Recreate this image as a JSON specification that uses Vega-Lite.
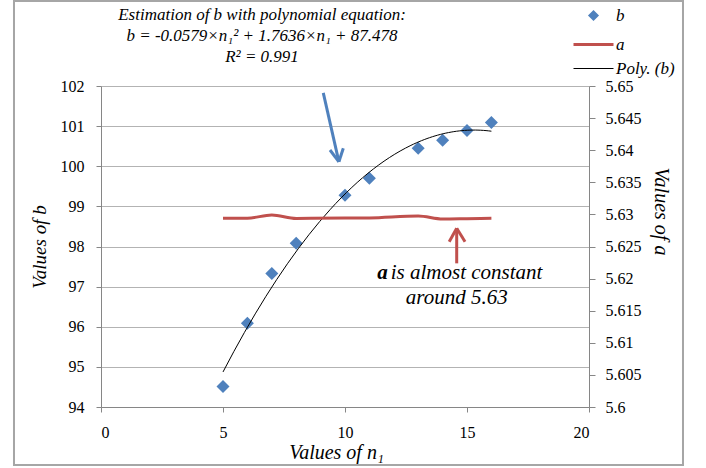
{
  "$schema": "https://vega.github.io/schema/vega-lite/v6.json",
  "width": 488,
  "height": 321,
  "autosize": {"type": "none"},
  "padding": {"left": 101, "top": 86, "right": 117, "bottom": 61},
  "background": "white",
  "title": {
    "text": ["Estimation of b with polynomial  equation:", "b = -0.0579×n₁² + 1.7636×n₁ + 87.478", "R² = 0.991"],
    "anchor": "middle",
    "frame": "group",
    "dx": -83,
    "dy": 78,
    "offset": 12,
    "font": "Liberation Serif, Times New Roman, serif",
    "fontStyle": "italic",
    "fontWeight": "normal",
    "fontSize": 17,
    "lineHeight": 21,
    "color": "#000000"
  },
  "config": {
    "font": "Liberation Serif, Times New Roman, serif",
    "view": {"stroke": null},
    "axis": {
      "labelFont": "Liberation Serif, Times New Roman, serif",
      "labelFontSize": 16,
      "labelColor": "#000000",
      "titleFont": "Liberation Serif, Times New Roman, serif",
      "titleFontStyle": "italic",
      "titleFontWeight": "normal",
      "titleFontSize": 19,
      "titleColor": "#000000",
      "domainColor": "#868686",
      "tickColor": "#868686",
      "gridColor": "#B3B3B3"
    },
    "legend": {
      "orient": "none",
      "legendX": 480,
      "legendY": -83,
      "padding": 0,
      "symbolSize": 400,
      "rowPadding": 5,
      "labelOffset": 10,
      "labelFont": "Liberation Serif, Times New Roman, serif",
      "labelFontStyle": "italic",
      "labelFontSize": 17,
      "labelColor": "#000000",
      "symbolOpacity": 1
    }
  },
  "datasets": {
    "pts": [
      {"n": 5, "b": 94.51},
      {"n": 6, "b": 96.09},
      {"n": 7, "b": 97.33},
      {"n": 8, "b": 98.08},
      {"n": 10, "b": 99.28},
      {"n": 11, "b": 99.7},
      {"n": 13, "b": 100.45},
      {"n": 14, "b": 100.65},
      {"n": 15, "b": 100.89},
      {"n": 16, "b": 101.09}
    ],
    "avals": [
      {"n": 5, "a": 5.62939},
      {"n": 6, "a": 5.6294},
      {"n": 7, "a": 5.62991},
      {"n": 8, "a": 5.62938},
      {"n": 10, "a": 5.62942},
      {"n": 11, "a": 5.62945},
      {"n": 13, "a": 5.62975},
      {"n": 14, "a": 5.62928},
      {"n": 15, "a": 5.62933},
      {"n": 16, "a": 5.62939}
    ],
    "one": [{}]
  },
  "resolve": {"scale": {"y": "independent"}},
  "layer": [
    {
      "layer": [
        {
          "data": {"name": "pts"},
          "mark": {"type": "point", "filled": true, "size": 4225, "opacity": 1},
          "encoding": {
            "x": {
              "field": "n",
              "type": "quantitative",
              "scale": {"domain": [0, 20], "nice": false},
              "axis": {
                "values": [0, 5, 10, 15, 20],
                "grid": false,
                "tickSize": 5,
                "labelPadding": 12,
                "title": "Values of n₁",
                "titleFontSize": 20,
                "titleX": 235,
                "titleY": 45,
                "titleAlign": "center",
                "titleBaseline": "middle"
              }
            },
            "y": {
              "field": "b",
              "type": "quantitative",
              "scale": {"domain": [94, 102], "nice": false, "zero": false},
              "axis": {
                "orient": "left",
                "values": [94, 95, 96, 97, 98, 99, 100, 101, 102],
                "grid": true,
                "tickSize": 5,
                "labelPadding": 12,
                "title": "Values of b",
                "titleX": -62,
                "titleY": 160.5,
                "titleAngle": -90,
                "titleAlign": "center",
                "titleBaseline": "middle"
              }
            },
            "color": {
              "datum": "b",
              "type": "nominal",
              "scale": {"domain": ["b", "a", "Poly. (b)"], "range": ["#4F81BD", "#C0504D", "#000000"]},
              "legend": {"title": null}
            },
            "shape": {
              "datum": "b",
              "type": "nominal",
              "scale": {"domain": ["b", "a", "Poly. (b)"], "range": ["M-0.2,0L0,-0.2L0.2,0L0,0.2Z", "M-2,0H2", "M-2,0H2"]},
              "legend": {"title": null}
            }
          }
        },
        {
          "data": {"name": "pts"},
          "transform": [{"regression": "b", "on": "n", "method": "poly", "order": 2}],
          "mark": {"type": "line"},
          "encoding": {
            "x": {"field": "n", "type": "quantitative"},
            "y": {"field": "b", "type": "quantitative"},
            "color": {"datum": "Poly. (b)", "type": "nominal"},
            "strokeWidth": {
              "datum": "Poly. (b)",
              "type": "ordinal",
              "scale": {"domain": ["b", "a", "Poly. (b)"], "range": [5, 1]},
              "legend": {"title": null}
            }
          }
        },
        {
          "data": {"name": "one"},
          "mark": {"type": "rect", "filled": false, "stroke": "#A6A6A6", "strokeWidth": 2, "clip": false},
          "encoding": {
            "x": {"datum": -3.566, "type": "quantitative"},
            "x2": {"datum": 23.852},
            "y": {"datum": 104.118, "type": "quantitative"},
            "y2": {"datum": 92.555}
          }
        },
        {
          "data": {"name": "one"},
          "mark": {"type": "rule", "color": "#4F81BD", "strokeWidth": 3},
          "encoding": {
            "x": {"datum": 9.11, "type": "quantitative"},
            "y": {"datum": 101.83, "type": "quantitative"},
            "x2": {"datum": 9.75},
            "y2": {"datum": 100.11}
          }
        },
        {
          "data": {"name": "one"},
          "mark": {"type": "rule", "color": "#4F81BD", "strokeWidth": 3},
          "encoding": {
            "x": {"datum": 9.385, "type": "quantitative"},
            "y": {"datum": 100.405, "type": "quantitative"},
            "x2": {"datum": 9.75},
            "y2": {"datum": 100.11}
          }
        },
        {
          "data": {"name": "one"},
          "mark": {"type": "rule", "color": "#4F81BD", "strokeWidth": 3},
          "encoding": {
            "x": {"datum": 9.93, "type": "quantitative"},
            "y": {"datum": 100.447, "type": "quantitative"},
            "x2": {"datum": 9.75},
            "y2": {"datum": 100.11}
          }
        },
        {
          "data": {"name": "one"},
          "mark": {"type": "rule", "color": "#C0504D", "strokeWidth": 3},
          "encoding": {
            "x": {"datum": 14.578, "type": "quantitative"},
            "y": {"datum": 97.58, "type": "quantitative"},
            "x2": {"datum": 14.578},
            "y2": {"datum": 98.455}
          }
        },
        {
          "data": {"name": "one"},
          "mark": {"type": "rule", "color": "#C0504D", "strokeWidth": 3},
          "encoding": {
            "x": {"datum": 14.27, "type": "quantitative"},
            "y": {"datum": 98.12, "type": "quantitative"},
            "x2": {"datum": 14.578},
            "y2": {"datum": 98.455}
          }
        },
        {
          "data": {"name": "one"},
          "mark": {"type": "rule", "color": "#C0504D", "strokeWidth": 3},
          "encoding": {
            "x": {"datum": 14.92, "type": "quantitative"},
            "y": {"datum": 98.12, "type": "quantitative"},
            "x2": {"datum": 14.578},
            "y2": {"datum": 98.455}
          }
        },
        {
          "data": {"name": "one"},
          "mark": {"type": "text", "text": "a", "font": "Liberation Serif, Times New Roman, serif", "fontStyle": "italic", "fontWeight": "bold", "fontSize": 21, "align": "right", "baseline": "middle", "color": "#000000"},
          "encoding": {
            "x": {"datum": 11.75, "type": "quantitative"},
            "y": {"datum": 97.34, "type": "quantitative"}
          }
        },
        {
          "data": {"name": "one"},
          "mark": {"type": "text", "text": "is almost constant", "dx": 3, "font": "Liberation Serif, Times New Roman, serif", "fontStyle": "italic", "fontSize": 21, "align": "left", "baseline": "middle", "color": "#000000"},
          "encoding": {
            "x": {"datum": 11.75, "type": "quantitative"},
            "y": {"datum": 97.34, "type": "quantitative"}
          }
        },
        {
          "data": {"name": "one"},
          "mark": {"type": "text", "text": "around 5.63", "font": "Liberation Serif, Times New Roman, serif", "fontStyle": "italic", "fontSize": 21, "align": "center", "baseline": "middle", "color": "#000000"},
          "encoding": {
            "x": {"datum": 14.58, "type": "quantitative"},
            "y": {"datum": 96.72, "type": "quantitative"}
          }
        }
      ]
    },
    {
      "data": {"name": "avals"},
      "mark": {"type": "line", "interpolate": "monotone"},
      "encoding": {
        "x": {"field": "n", "type": "quantitative"},
        "y": {
          "field": "a",
          "type": "quantitative",
          "scale": {"domain": [5.6, 5.65], "nice": false, "zero": false},
          "axis": {
            "orient": "right",
            "values": [5.6, 5.605, 5.61, 5.615, 5.62, 5.625, 5.63, 5.635, 5.64, 5.645, 5.65],
            "format": "~g",
            "grid": false,
            "tickSize": 6,
            "labelPadding": 10,
            "title": "Values of a",
            "titleFontSize": 20,
            "titleX": 71,
            "titleY": 125,
            "titleAngle": 90,
            "titleAlign": "center",
            "titleBaseline": "middle"
          }
        },
        "color": {"datum": "a", "type": "nominal"},
        "strokeWidth": {"datum": "a", "type": "ordinal"}
      }
    }
  ]
}
